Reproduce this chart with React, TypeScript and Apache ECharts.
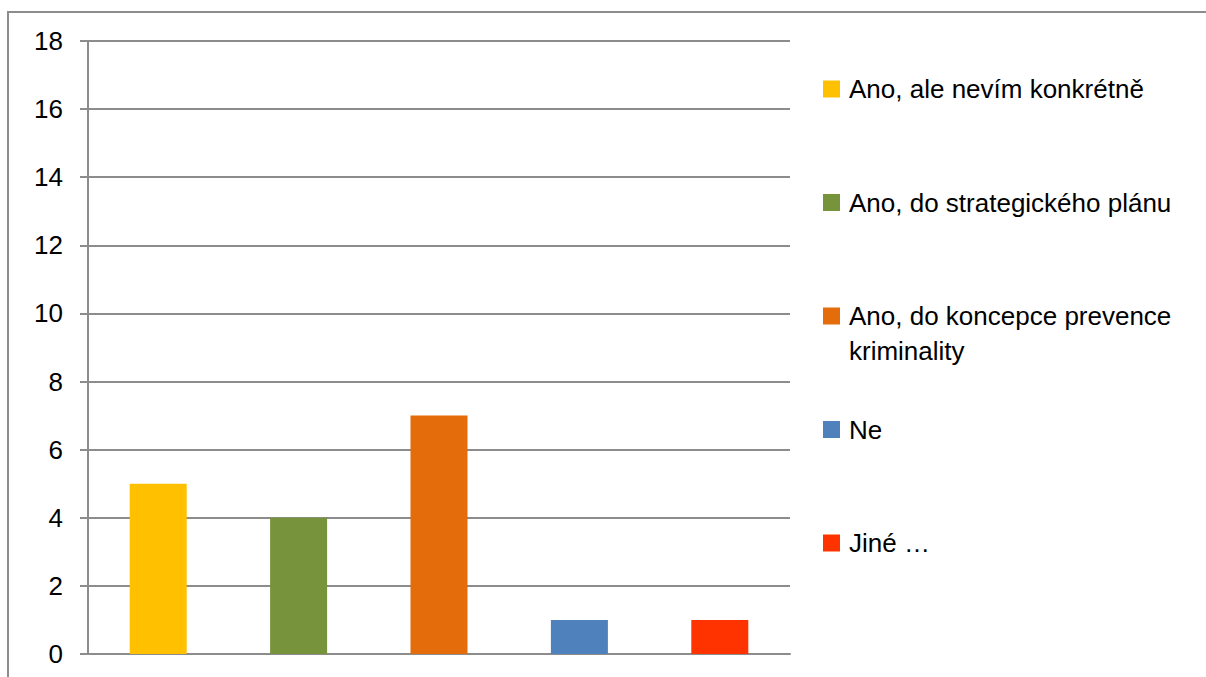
import React, { useEffect, useRef } from "react";
import * as echarts from "echarts";

const categories = [
  "Ano, ale nevím konkrétně",
  "Ano, do strategického plánu",
  "Ano, do koncepce prevence kriminality",
  "Ne",
  "Jiné …",
];
const values = [5, 4, 7, 1, 1];
const colors = ["#FFC000", "#77933C", "#E46C0A", "#4F81BD", "#FF3300"];
const yTicks = { min: 0, max: 18, interval: 2 };

const FONT = "'Liberation Sans', Arial, sans-serif";
const GRAY = "#8c8c8c";

export default function App() {
  const ref = useRef<HTMLDivElement>(null);
  useEffect(() => {
    if (!ref.current) return;
    const chart = echarts.init(ref.current, undefined, { renderer: "svg" });
    const series = categories.map((name, i) => ({
      name,
      type: "bar",
      barWidth: 57,
      barGap: "-100%",
      itemStyle: { color: colors[i] },
      data: categories.map((_, j) => (j === i ? values[i] : "-")),
    }));
    const legendGraphics: any[] = [];
    categories.forEach((name, i) => {
      const cy = 89 + 113.5 * i;
      legendGraphics.push({
        type: "rect",
        shape: { x: 823, y: cy - 8.5, width: 17, height: 17 },
        style: { fill: colors[i] },
      });
      legendGraphics.push({
        type: "text",
        x: 849,
        y: cy - 17.5,
        style: {
          text: name,
          font: `26px ${FONT}`,
          fill: "#000",
          lineHeight: 35,
          width: 385,
          overflow: "break",
          verticalAlign: "top",
        },
      });
    });
    chart.setOption({
      animation: false,
      grid: { left: 88, top: 41, right: 416, bottom: 23, containLabel: false },
      xAxis: {
        type: "category",
        data: categories,
        axisLine: { lineStyle: { color: GRAY, width: 2 } },
        axisTick: { show: false },
        axisLabel: { show: false },
      },
      yAxis: {
        type: "value",
        min: yTicks.min,
        max: yTicks.max,
        interval: yTicks.interval,
        axisLine: { show: true, lineStyle: { color: GRAY, width: 2 } },
        axisTick: { show: true, length: 8, lineStyle: { color: GRAY, width: 2 } },
        axisLabel: { color: "#000", fontSize: 26, fontFamily: FONT, margin: 25 },
        splitLine: { lineStyle: { color: GRAY, width: 2 } },
      },
      series,
      graphic: [
        {
          type: "rect",
          shape: { x: 8, y: 12, width: 1230, height: 700 },
          style: { fill: "none", stroke: GRAY, lineWidth: 2 },
          silent: true,
        },
        ...legendGraphics,
      ],
    });
    return () => chart.dispose();
  }, []);
  return (
    <div
      ref={ref}
      style={{ position: "fixed", left: 0, top: 0, width: 1206, height: 677, background: "#fff" }}
    />
  );
}
